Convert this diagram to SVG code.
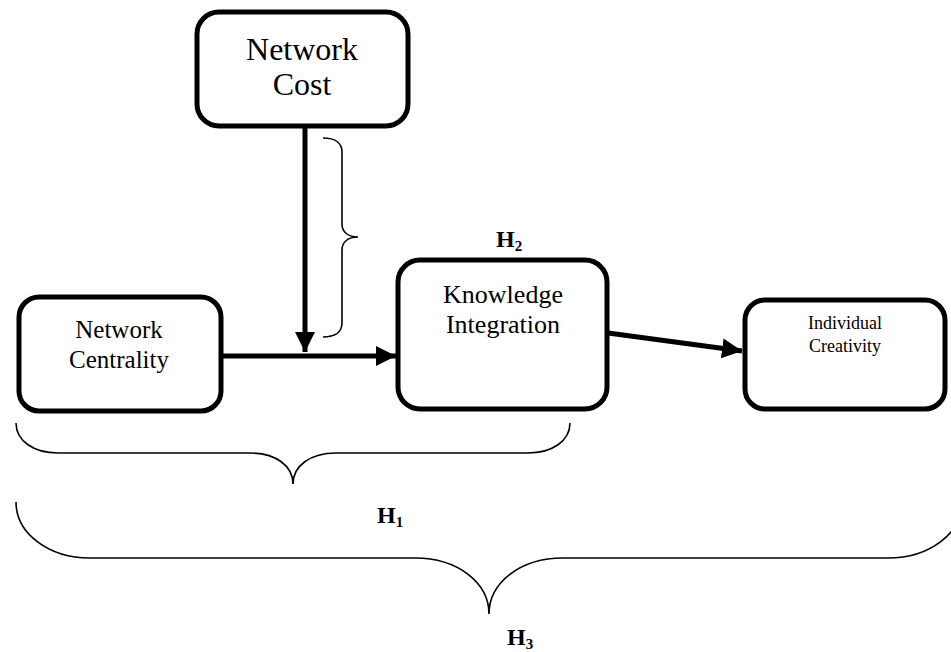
<svg xmlns="http://www.w3.org/2000/svg" width="951" height="652" viewBox="0 0 951 652">
<style>
.box{fill:#fff;stroke:#000;stroke-width:5}
.lbl{fill:#000;text-anchor:middle}
.h{font-weight:bold;font-size:24px;fill:#000}
.arr{stroke:#000;stroke-width:5;fill:none}
.brace{stroke:#000;stroke-width:1.6;fill:none}
</style>
<defs>
<marker id="ah" viewBox="0 0 10 10" refX="10" refY="5" markerWidth="4" markerHeight="4" orient="auto" markerUnits="strokeWidth">
<path d="M0,0 L10,5 L0,10 z" fill="#000"/>
</marker>
</defs>
<g font-family="'Liberation Serif', 'Times New Roman', serif">
<g id="network-cost">
<rect class="box" x="197" y="12" width="211" height="114" rx="22"/>
<text class="lbl" font-size="32" x="302" y="60">Network</text>
<text class="lbl" font-size="32" x="302" y="95">Cost</text>
</g>
<g id="network-centrality">
<rect class="box" x="19" y="297" width="202" height="114" rx="20"/>
<text class="lbl" font-size="25" x="119" y="338">Network</text>
<text class="lbl" font-size="25" x="119" y="368">Centrality</text>
</g>
<g id="knowledge-integration">
<rect class="box" x="398" y="260" width="209" height="149" rx="22"/>
<text class="lbl" font-size="26" x="503" y="303">Knowledge</text>
<text class="lbl" font-size="26" x="503" y="333">Integration</text>
</g>
<g id="individual-creativity">
<rect class="box" x="745" y="300" width="200" height="109" rx="20"/>
<text class="lbl" font-size="18" x="845" y="329">Individual</text>
<text class="lbl" font-size="18" x="845" y="352">Creativity</text>
</g>
<g id="connectors">
<line class="arr" x1="305" y1="126" x2="305" y2="352" marker-end="url(#ah)"/>
<line class="arr" x1="221" y1="356" x2="396" y2="356" marker-end="url(#ah)"/>
<line class="arr" x1="608" y1="333" x2="742" y2="351" marker-end="url(#ah)"/>
</g>
<g id="braces">
<path class="brace" d="M323,138 C335,138 342,143 342,152 L342,224 C342,232 348,237 358,237 C348,237 342,242 342,250 L342,323 C342,332 335,337 323,337"/>
<path class="brace" d="M16,423 C16,441 34,453 58,453 L250,453 C276,453 293,466 293,484 C293,466 310,453 336,453 L528,453 C552,453 570,441 570,423"/>
<path class="brace" d="M16,502 C16,533 48,558 90,558 L415,558 C458,558 489,583 489,614 C489,583 520,558 563,558 L888,558 C930,558 962,533 962,502"/>
</g>
<g id="labels">
<text class="h" x="496" y="247">H<tspan font-size="15" dy="4">2</tspan></text>
<text class="h" x="377" y="523">H<tspan font-size="15" dy="4">1</tspan></text>
<text class="h" x="507" y="645">H<tspan font-size="15" dy="4">3</tspan></text>
</g>
</g>
</svg>
